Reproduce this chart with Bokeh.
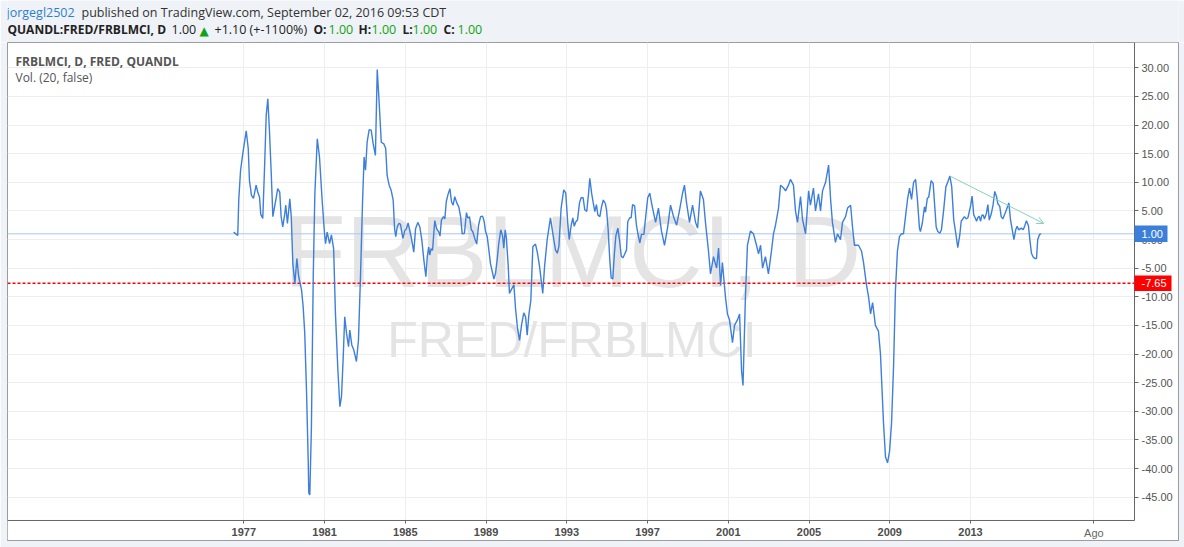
from bokeh.plotting import figure
from bokeh.layouts import column
from bokeh.models import (Range1d, FixedTicker, NumeralTickFormatter, Label,
                          BoxAnnotation, Arrow, OpenHead)
from bokeh.embed import file_html
from bokeh.resources import INLINE

# ---------------- data ----------------
dates = [
    1976.50, 1976.70, 1976.75, 1976.84, 1976.95, 1977.12, 1977.22, 1977.28, 1977.38, 1977.48,
    1977.61, 1977.69, 1977.78, 1977.84, 1977.94, 1978.04, 1978.11, 1978.19, 1978.27, 1978.36,
    1978.44, 1978.51, 1978.61, 1978.68, 1978.78, 1978.85, 1978.93, 1979.03, 1979.08, 1979.16,
    1979.28, 1979.35, 1979.43, 1979.53, 1979.63, 1979.72, 1979.86, 1979.94, 1980.02, 1980.11,
    1980.19, 1980.22, 1980.27, 1980.35, 1980.44, 1980.52, 1980.64, 1980.75, 1980.88, 1981.00,
    1981.05, 1981.13, 1981.25, 1981.34, 1981.45, 1981.54, 1981.66, 1981.76, 1981.84, 1981.92,
    1982.00, 1982.09, 1982.19, 1982.25, 1982.35, 1982.45, 1982.58, 1982.68, 1982.78, 1982.88,
    1982.96, 1983.03, 1983.11, 1983.21, 1983.31, 1983.41, 1983.52, 1983.61, 1983.69, 1983.81,
    1983.94, 1984.03, 1984.10, 1984.20, 1984.30, 1984.40, 1984.47, 1984.53, 1984.60, 1984.68,
    1984.76, 1984.88, 1984.98, 1985.06, 1985.14, 1985.22, 1985.32, 1985.42, 1985.51, 1985.62,
    1985.72, 1985.82, 1985.92, 1986.02, 1986.09, 1986.16, 1986.21, 1986.28, 1986.35, 1986.41,
    1986.46, 1986.55, 1986.66, 1986.72, 1986.79, 1986.89, 1986.96, 1987.03, 1987.11, 1987.21,
    1987.29, 1987.37, 1987.45, 1987.55, 1987.65, 1987.74, 1987.82, 1987.93, 1988.03, 1988.10,
    1988.18, 1988.27, 1988.34, 1988.44, 1988.54, 1988.63, 1988.73, 1988.83, 1988.91, 1988.97,
    1989.06, 1989.14, 1989.22, 1989.31, 1989.39, 1989.47, 1989.55, 1989.63, 1989.73, 1989.82,
    1989.88, 1989.95, 1990.01, 1990.10, 1990.16, 1990.26, 1990.38, 1990.46, 1990.56, 1990.66,
    1990.76, 1990.87, 1990.96, 1991.04, 1991.12, 1991.22, 1991.32, 1991.45, 1991.55, 1991.65,
    1991.75, 1991.81, 1991.90, 1992.03, 1992.19, 1992.33, 1992.44, 1992.53, 1992.61, 1992.72,
    1992.85, 1992.95, 1993.05, 1993.12, 1993.22, 1993.30, 1993.37, 1993.45, 1993.53, 1993.63,
    1993.71, 1993.81, 1993.89, 1993.99, 1994.08, 1994.14, 1994.23, 1994.31, 1994.39, 1994.47,
    1994.54, 1994.64, 1994.72, 1994.81, 1994.91, 1994.97, 1995.05, 1995.13, 1995.20, 1995.28,
    1995.36, 1995.43, 1995.53, 1995.61, 1995.70, 1995.78, 1995.86, 1995.96, 1996.02, 1996.12,
    1996.19, 1996.26, 1996.36, 1996.45, 1996.52, 1996.62, 1996.70, 1996.82, 1996.91, 1997.01,
    1997.11, 1997.25, 1997.40, 1997.54, 1997.69, 1997.84, 1997.99, 1998.14, 1998.29, 1998.44,
    1998.58, 1998.73, 1998.83, 1998.93, 1999.08, 1999.23, 1999.38, 1999.48, 1999.62, 1999.77,
    1999.87, 2000.02, 2000.12, 2000.27, 2000.42, 2000.52, 2000.62, 2000.71, 2000.86, 2000.96,
    2001.06, 2001.21, 2001.31, 2001.46, 2001.56, 2001.66, 2001.73, 2001.85, 2001.95, 2002.10,
    2002.25, 2002.40, 2002.50, 2002.60, 2002.70, 2002.84, 2002.99, 2003.14, 2003.24, 2003.34,
    2003.49, 2003.59, 2003.74, 2003.84, 2003.98, 2004.08, 2004.23, 2004.33, 2004.43, 2004.58,
    2004.68, 2004.83, 2004.98, 2005.07, 2005.22, 2005.32, 2005.47, 2005.57, 2005.67, 2005.82,
    2005.97, 2006.07, 2006.16, 2006.31, 2006.41, 2006.56, 2006.66, 2006.81, 2006.91, 2007.06,
    2007.16, 2007.25, 2007.45, 2007.60, 2007.70, 2007.85, 2007.95, 2008.05, 2008.15, 2008.29,
    2008.44, 2008.54, 2008.69, 2008.79, 2008.89, 2008.99, 2009.09, 2009.19, 2009.28, 2009.38,
    2009.48, 2009.58, 2009.68, 2009.78, 2009.88, 2009.98, 2010.08, 2010.18, 2010.28, 2010.37,
    2010.47, 2010.52, 2010.61, 2010.72, 2010.77, 2010.86, 2010.93, 2011.05, 2011.15, 2011.23,
    2011.30, 2011.38, 2011.48, 2011.56, 2011.68, 2011.78, 2011.88, 2011.98, 2012.07, 2012.17,
    2012.27, 2012.37, 2012.47, 2012.54, 2012.60, 2012.70, 2012.79, 2012.87, 2013.00, 2013.08,
    2013.16, 2013.23, 2013.30, 2013.36, 2013.43, 2013.50, 2013.56, 2013.63, 2013.69, 2013.79,
    2013.86, 2013.93, 2014.03, 2014.12, 2014.20, 2014.29, 2014.35, 2014.45, 2014.52, 2014.60,
    2014.68, 2014.78, 2014.90, 2014.98, 2015.07, 2015.15, 2015.24, 2015.31, 2015.39, 2015.51,
    2015.61, 2015.68, 2015.77, 2015.87, 2015.94, 2016.02, 2016.11, 2016.19, 2016.27, 2016.33,
    2016.42, 2016.50,
]
values = [
    1.3, 0.7, 6.9, 12.1, 15.0, 19.0, 15.9, 10.3, 7.7, 7.2,
    9.5, 8.3, 7.4, 4.4, 3.7, 13.8, 21.7, 24.6, 19.1, 11.5,
    4.0, 5.4, 7.4, 8.9, 8.3, 4.0, 2.2, 4.5, 6.0, 2.8,
    7.1, 4.0, -4.2, -7.7, -3.3, -6.5, -8.8, -11.7, -16.4, -26.9,
    -38.5, -44.3, -44.6, -32.7, -6.5, 8.0, 17.6, 14.4, 6.9, 1.0,
    -0.7, 1.3, -0.7, 0.8, -1.6, -12.9, -22.8, -29.2, -27.4, -21.0,
    -13.5, -16.4, -18.7, -15.8, -18.4, -19.3, -21.3, -17.6, -6.5, 6.3,
    14.4, 12.1, 17.0, 19.2, 19.1, 16.7, 14.7, 29.7, 24.9, 17.0,
    16.7, 15.9, 11.2, 9.5, 8.6, 6.9, 1.9, 0.5, 2.2, 2.8,
    2.7, 0.2, 1.6, 1.9, 2.9, 1.6, -0.1, -2.2, 1.9, 3.0,
    2.2, -0.1, -3.6, -6.5, -3.0, -1.3, -2.7, -1.6, -1.9, 1.0,
    3.3, 1.9, 1.3, 0.6, 3.4, 4.0, 3.6, 6.6, 7.8, 8.9,
    6.6, 6.0, 7.5, 6.4, 5.7, 4.0, 1.0, 1.1, 4.7, 3.7,
    4.0, 1.7, 1.4, 0.2, -0.8, 2.5, 4.0, 4.1, 3.1, 1.5,
    0.5, -1.8, -4.2, -5.6, -6.9, -5.9, -3.6, -0.7, 1.7, 0.6,
    -1.5, 1.7, 0.2, -4.7, -9.4, -8.7, -7.9, -12.0, -15.5, -17.6,
    -14.9, -12.8, -13.5, -16.7, -13.2, -10.6, -1.2, -0.8, -2.4, -4.7,
    -7.6, -9.4, -4.7, 0.0, 3.8, 0.6, -1.8, -2.4, -1.2, 5.5,
    8.7, 8.1, 2.8, 0.0, 2.5, 3.8, 2.3, 3.1, 3.4, 6.4,
    7.3, 7.3, 5.2, 4.9, 8.1, 10.7, 8.1, 6.4, 4.9, 6.1,
    4.3, 4.0, 5.7, 6.9, 6.3, 5.2, 1.7, -3.5, -6.7, -6.9,
    -2.4, 0.6, 2.0, 0.0, -2.9, -3.2, -2.6, -1.8, 3.1, 3.8,
    3.8, 6.1, 5.9, 2.5, 1.1, -0.6, 0.9, 0.9, 4.0, 7.3,
    8.1, 5.5, 3.0, 5.5, 1.5, -1.0, 2.0, 6.0, 4.0, 2.5,
    5.0, 8.0, 9.5, 6.5, 3.0, 6.0, 3.0, 2.0, 8.5, 7.0,
    3.0, -2.0, -6.0, -3.0, -5.0, -1.5, -8.0, -4.0, -10.0, -13.0,
    -14.0, -18.0, -15.0, -14.0, -13.0, -23.0, -25.5, -10.0, -1.0, 1.5,
    1.0, -1.0, -2.5, -1.0, -5.0, -3.0, -6.0, -2.0, 1.0, 2.5,
    5.5, 9.5, 9.0, 8.5, 9.5, 10.5, 9.5, 5.0, 3.0, 7.5,
    3.5, 1.0, 8.5, 6.0, 9.0, 5.0, 8.0, 5.0, 8.5, 10.0,
    13.0, 7.0, 3.0, -0.5, 1.0, 0.0, 3.0, 4.0, 5.5, 6.0,
    2.0, -1.0, -1.0, -2.0, -4.0, -8.0, -10.0, -13.0, -11.0, -15.0,
    -16.0, -20.0, -32.0, -38.0, -39.0, -37.0, -32.0, -22.0, -9.0, -2.0,
    0.5, 1.0, 1.0, 4.0, 7.0, 9.0, 7.0, 10.0, 10.5, 7.0,
    2.0, 1.4, 2.8, 5.7, 4.8, 7.2, 7.4, 10.3, 9.8, 5.7,
    2.2, 1.4, 1.1, 1.7, 5.5, 9.2, 10.1, 11.1, 9.2, 3.4,
    1.1, -1.4, 0.8, 3.2, 3.5, 4.0, 3.6, 3.8, 5.8, 7.6,
    4.3, 3.8, 3.2, 3.8, 4.1, 3.2, 4.2, 4.3, 3.6, 4.6,
    6.1, 3.4, 4.5, 6.1, 8.4, 7.5, 6.3, 5.8, 4.0, 3.6,
    4.3, 5.2, 6.4, 3.5, 1.7, 0.0, 1.7, 2.3, 1.7, 2.0,
    1.7, 2.3, 3.3, 2.4, 0.0, -2.4, -3.1, -3.3, -3.3, 0.0,
    0.9, 1.0,
]

x_ticks = [1977, 1981, 1985, 1989, 1993, 1997, 2001, 2005, 2009, 2013]
x_tick_labels = ["1977", "1981", "1985", "1989", "1993", "1997", "2001", "2005", "2009", "2013"]
future_tick = 2019.11
future_label = "Ago"
y_ticks = [30, 25, 20, 15, 10, 5, 0, -5, -10, -15, -20, -25, -30, -35, -40, -45]

last_value = 1.00
marker_level = -7.65
trend_dates = [2011.98, 2016.63]
trend_values = [11.1, 2.8]

# ---------------- styles / geometry ----------------
UI_FONT = "Open Sans"
AX_FONT = "Liberation Sans"
LINE_BLUE = "#3d7fdb"
GREEN = "#12a312"
PAGE_BG = "#eff2f6"
BOX_LINE = "#9c9c9c"
AX_LINE = "#666666"

# frame covers the white panel; the price area ends at X_EDGE / Y_EDGE
X_LEFT, X_EDGE, X_RIGHT = 1965.294, 2021.125, 2023.304
Y_TOP, Y_EDGE, Y_BOTTOM = 34.419, -49.074, -52.568

# ---------------- header ----------------
head = figure(width=1184, height=42, output_backend="svg", toolbar_location=None, title=None,
              x_axis_type=None, y_axis_type=None, x_range=Range1d(0, 1184), y_range=Range1d(42, 0),
              min_border=0, background_fill_color=PAGE_BG, border_fill_color=PAGE_BG,
              outline_line_color=None)
head.xgrid.visible = False
head.ygrid.visible = False


def htext(x, y, text, color="#222222", style="normal", size="12.5px", font=UI_FONT):
    head.add_layout(Label(x=x, y=y, x_units="canvas", y_units="canvas", text=text,
                          text_font=font, text_font_size=size, text_font_style=style,
                          text_color=color, text_baseline="middle"))


htext(6, 11.8, "jorgegl2502", color="#2d7fd0")
htext(81, 11.8, "published on TradingView.com, September 02, 2016 09:53 CDT", color="#333333")
htext(7, 28.8, "QUANDL:FRED/FRBLMCI, D", style="bold", size="12px")
htext(171, 28.8, "1.00")
htext(199, 30.0, "\u25B2", color=GREEN, size="12px", font="DejaVu Sans")
htext(214, 28.8, "+1.10 (+-1100%)")
htext(313, 28.8, "O:", style="bold", size="12px")
htext(328, 28.8, "1.00", color=GREEN)
htext(358, 28.8, "H:", style="bold", size="12px")
htext(371, 28.8, "1.00", color=GREEN)
htext(402, 28.8, "L:", style="bold", size="12px")
htext(412, 28.8, "1.00", color=GREEN)
htext(443, 28.8, "C:", style="bold", size="12px")
htext(457, 28.8, "1.00", color=GREEN)

# ---------------- main chart ----------------
p = figure(width=1184, height=505, output_backend="svg", toolbar_location=None, title=None,
           x_range=Range1d(X_LEFT, X_RIGHT), y_range=Range1d(Y_BOTTOM, Y_TOP),
           y_axis_location="right",
           min_border_left=7, min_border_right=6, min_border_top=0, min_border_bottom=7,
           background_fill_color="white", border_fill_color=PAGE_BG,
           outline_line_color=BOX_LINE, outline_line_width=1)

p.xgrid.grid_line_color = "#eeeeee"
p.ygrid.grid_line_color = "#eeeeee"

# white strips for the axis areas (hide grid there)
p.add_layout(BoxAnnotation(left=X_EDGE, fill_color="white", fill_alpha=1.0,
                           line_color=None, level="underlay"))
p.add_layout(BoxAnnotation(top=Y_EDGE, fill_color="white", fill_alpha=1.0,
                           line_color=None, level="underlay"))

# x axis: its line is the panel's bottom border, ticks/labels sit at the price area's edge
xax = p.xaxis[0]
xax.ticker = FixedTicker(ticks=x_ticks + [future_tick])
overrides = {t: l for t, l in zip(x_ticks, x_tick_labels)}
overrides[future_tick] = ""
xax.major_label_overrides = overrides
xax.major_label_text_font = AX_FONT
xax.major_label_text_font_size = "11px"
xax.major_label_text_font_style = "bold"
xax.major_label_text_color = "#4d4d4d"
xax.major_tick_in = 20
xax.major_tick_out = -17
xax.minor_tick_line_color = None
xax.major_label_standoff = -13
xax.axis_line_color = BOX_LINE
xax.major_tick_line_color = AX_LINE

# y axis on the right, same idea
yax = p.yaxis[0]
yax.ticker = FixedTicker(ticks=y_ticks)
yax.formatter = NumeralTickFormatter(format="0.00")
yax.major_label_text_font = AX_FONT
yax.major_label_text_font_size = "11px"
yax.major_label_text_color = "#555555"
yax.major_tick_in = 44
yax.major_tick_out = -40
yax.minor_tick_line_color = None
yax.major_label_standoff = -37
yax.axis_line_color = BOX_LINE
yax.major_tick_line_color = AX_LINE

# watermark
p.add_layout(Label(x=1993.28, y=-2.14, text="FRBLMCI, D", text_align="center",
                   text_baseline="middle", text_font=AX_FONT, text_font_size="102px",
                   text_color="#e4e4e4", level="underlay"))
p.add_layout(Label(x=1993.26, y=-17.55, text="FRED/FRBLMCI", text_align="center",
                   text_baseline="middle", text_font=AX_FONT, text_font_size="50px",
                   text_color="#e4e4e4", level="underlay"))

# price line, marker level
p.segment(x0=[X_LEFT], y0=[last_value], x1=[X_EDGE], y1=[last_value],
          line_color="#aac6ee", line_width=1)
p.segment(x0=[X_LEFT], y0=[marker_level], x1=[X_EDGE], y1=[marker_level],
          line_color="#ff0000", line_width=1.5, line_dash="3 2")

# series
p.line(dates, values, line_color=LINE_BLUE, line_width=1.4)

# price-area edges (the visible axis lines)
p.segment(x0=[X_LEFT, X_EDGE], y0=[Y_EDGE, Y_EDGE], x1=[X_EDGE, X_EDGE], y1=[Y_EDGE, Y_TOP],
          line_color=AX_LINE, line_width=1)

# trend arrow
p.add_layout(Arrow(end=OpenHead(size=7, line_color="#86d3bb", line_width=1),
                   x_start=trend_dates[0], y_start=trend_values[0],
                   x_end=trend_dates[1], y_end=trend_values[1],
                   line_color="#86d3bb", line_width=1))

# price tags
p.add_layout(BoxAnnotation(left=1134, right=1167, left_units="canvas", right_units="canvas",
                           top=last_value + 1.45, bottom=last_value - 1.45,
                           fill_color="#3c7fd9", fill_alpha=1.0, line_color=None))
p.add_layout(Label(x=1141, x_units="canvas", y=last_value, text="%.2f" % last_value,
                   text_baseline="middle", text_font=AX_FONT, text_font_size="11px",
                   text_color="white"))
p.add_layout(BoxAnnotation(left=1134, right=1171, left_units="canvas", right_units="canvas",
                           top=marker_level + 1.35, bottom=marker_level - 1.35,
                           fill_color="#ff0000", fill_alpha=1.0, line_color=None))
p.add_layout(Label(x=1141, x_units="canvas", y=marker_level, text="%.2f" % marker_level,
                   text_baseline="middle", text_font=AX_FONT, text_font_size="11px",
                   text_color="white"))

# future tick label
p.add_layout(Label(x=future_tick, y=490.5, y_units="canvas", text=future_label,
                   text_align="center", text_baseline="middle", text_font=AX_FONT,
                   text_font_size="11px", text_color="#666666"))

# in-chart legend
p.add_layout(Label(x=15, y=18.8, x_units="canvas", y_units="canvas",
                   text="FRBLMCI, D, FRED, QUANDL", text_font=UI_FONT, text_font_size="12px",
                   text_font_style="bold", text_color="#555555", text_baseline="middle"))
p.add_layout(Label(x=15, y=34.8, x_units="canvas", y_units="canvas",
                   text="Vol. (20, false)", text_font=UI_FONT, text_font_size="12px",
                   text_color="#555555", text_baseline="middle"))

layout = column(head, p, spacing=0)
open("out.html", "w").write(file_html(layout, INLINE))
